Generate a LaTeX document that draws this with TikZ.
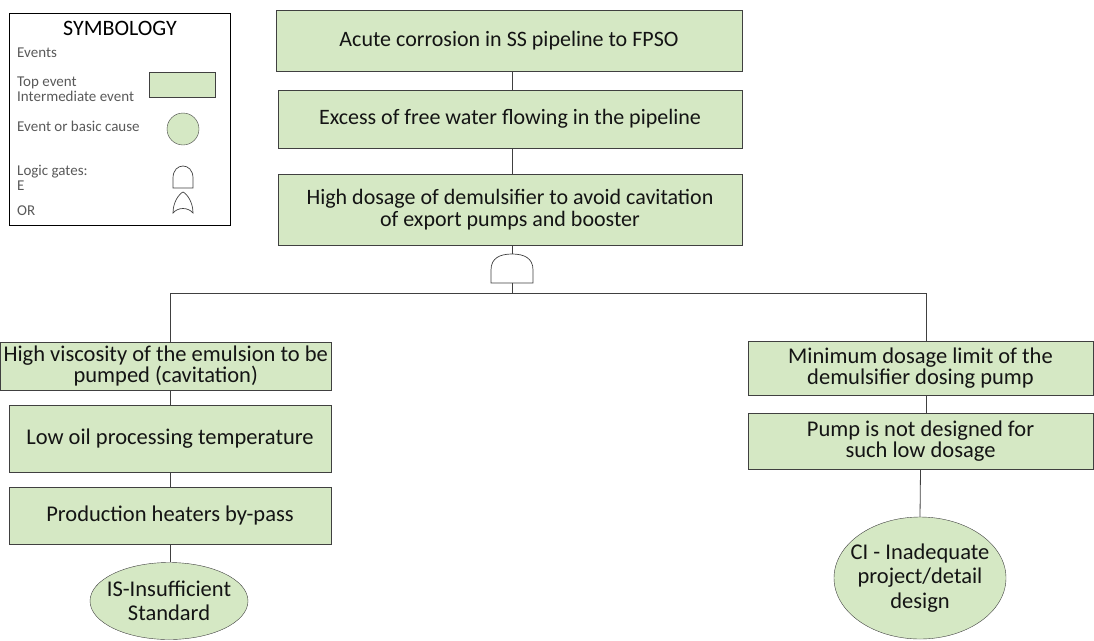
\documentclass[tikz,border=0pt]{standalone}
\usepackage{fontspec}
\setmainfont{Carlito}
\usepackage{tikz}
\usetikzlibrary{shapes.geometric}

\definecolor{evgreen}{RGB}{213,232,196}
\definecolor{evline}{RGB}{64,64,64}
\definecolor{evtext}{RGB}{20,20,20}
\definecolor{legtext}{RGB}{89,89,89}

\begin{document}
\begin{tikzpicture}[x=1pt,y=-1pt,
        event/.style={draw=evline, fill=evgreen, rectangle, inner sep=0pt, align=center,
            text=evtext, font=\fontsize{22}{21.7}\selectfont},
        lowevent/.style={event, font=\fontsize{22.5}{20.5}\selectfont},
        cause/.style={draw=evline, fill=evgreen, ellipse, inner ysep=0pt, align=center,
            text=evtext, font=\fontsize{22.5}{24.5}\selectfont},
        legend/.style={anchor=west, inner sep=0pt, align=left, text=legtext,
            font=\fontsize{15}{15}\selectfont},
        gate/.style={draw=evline, fill=white, line width=0.7pt},
        link/.style={draw=evline, line width=0.8pt}]
        \useasboundingbox (0,0) rectangle (1094,640);

        % symbology box
        \node[draw=black, line width=1pt, minimum width=221, minimum height=212, inner sep=0pt] (legbox) at (119.5,119) {};
        \node[text=black, font=\fontsize{22}{24}\selectfont] (legtitle) at (120,28) {SYMBOLOGY};
        \node[legend] (legev) at (17,53) {Events};
        \node[legend] (legtop) at (17,89) {Top event\\Intermediate event};
        \node[legend] (legbasic) at (17,126) {Event or basic cause};
        \node[legend] (leggates) at (17,178) {Logic gates:\\E};
        \node[legend] (legor) at (17,211) {OR};
        \node[draw=evline, fill=evgreen, minimum width=66, minimum height=25, inner sep=0pt] (legrect) at (182,84.5) {};
        \node[draw=evline, fill=evgreen, circle, minimum size=32, inner sep=0pt] (legcirc) at (183,129) {};
        \draw[gate] (173,188) -- (173,178) .. controls (173,170) and (178,166) .. (183,166)
            .. controls (188,166) and (193,170) .. (193,178) -- (193,188) -- cycle;
        \draw[gate] (173,213) .. controls (173,202) and (179,194) .. (183,192)
            .. controls (187,194) and (193,202) .. (193,213)
            .. controls (188,207) and (178,207) .. (173,213) -- cycle;

        % top of the tree
        \node[event, minimum width=466, minimum height=61] (top) at (509,40.5) {Acute corrosion in SS pipeline to FPSO};
        \node[event, minimum width=464, minimum height=58] (water) at (510,119) {Excess of free water flowing in the pipeline};
        \node[event, minimum width=464, minimum height=71] (dosage) at (510,209.5) {High dosage of demulsifier to avoid cavitation\\of export pumps and booster};

        % AND gate
        \coordinate (andtop) at (512,254);
        \coordinate (andbot) at (512,283);
        \coordinate (busmid) at (512,293);
        \coordinate (busL) at (170,293);
        \coordinate (busR) at (926,293);

        % left branch
        \node[lowevent, minimum width=330.5, minimum height=48] (visc) at (165.75,366) {High viscosity of the emulsion to be\\pumped (cavitation)};
        \node[lowevent, minimum width=322, minimum height=67] (lowtemp) at (170,438.5) {Low oil processing temperature};
        \node[lowevent, minimum width=322, minimum height=57] (heaters) at (170,515.5) {Production heaters by-pass};
        \node[cause, inner xsep=-13pt, minimum width=158, minimum height=77] (insuff) at (169,601) {IS-Insufficient\\Standard};

        % right branch
        \node[lowevent, minimum width=345, minimum height=54] (mindose) at (920.5,368) {Minimum dosage limit of the\\demulsifier dosing pump};
        \node[lowevent, minimum width=345, minimum height=56] (pump) at (920.5,441) {Pump is not designed for\\such low dosage};
        \node[cause, inner xsep=-9pt, minimum width=172, minimum height=122] (design) at (920,578) {CI - Inadequate\\project/detail\\design};

        % connectors
        \draw[link] (top.south -| andtop) -- (water.north -| andtop);
        \draw[link] (water.south -| andtop) -- (dosage.north -| andtop);
        \draw[link] (dosage.south -| andtop) -- (andtop);
        \draw[gate] (491,283) -- (491,270) .. controls (491,258) and (500,254) .. (andtop)
            .. controls (524,254) and (533,258) .. (533,270) -- (533,283) -- cycle;
        \draw[link] (andbot) -- (busmid);
        \draw[link] (busL) -- (busR);
        \draw[link] (busL) -- (busL |- visc.north);
        \draw[link] (visc.south -| busL) -- (lowtemp.north -| busL);
        \draw[link] (lowtemp.south -| busL) -- (heaters.north -| busL);
        \draw[link] (heaters.south -| busL) -- (insuff.north -| busL);
        \draw[link] (busR) -- (busR |- mindose.north);
        \draw[link] (mindose.south -| busR) -- (pump.north -| busR);
        \draw[link] (pump.south) -- (design.north);
    \end{tikzpicture}
\end{document}
